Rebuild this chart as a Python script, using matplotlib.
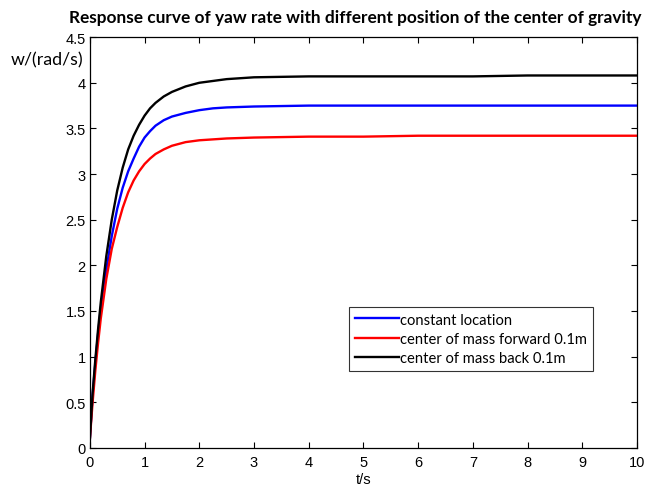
import numpy as np
import matplotlib
matplotlib.use("Agg")
from matplotlib import pyplot as plt

# time samples (s)
t = [0, 0.05, 0.1, 0.15, 0.2, 0.3, 0.4, 0.5, 0.6, 0.7, 0.8, 0.9, 1.0, 1.1,
     1.2, 1.35, 1.5, 1.75, 2.0, 2.25, 2.5, 3.0, 4.0, 5.0, 6.0, 7.0, 8.0,
     9.0, 10.0]

w_constant = [0.1, 0.58, 0.93, 1.25, 1.53, 1.95, 2.32, 2.62, 2.85, 3.03, 3.17,
              3.30, 3.40, 3.47, 3.53, 3.59, 3.63, 3.67, 3.70, 3.72, 3.73, 3.74,
              3.75, 3.75, 3.75, 3.75, 3.75, 3.75, 3.75]
w_forward = [0.1, 0.5, 0.85, 1.15, 1.42, 1.85, 2.18, 2.42, 2.63, 2.8, 2.93,
             3.03, 3.11, 3.17, 3.22, 3.27, 3.31, 3.35, 3.37, 3.38, 3.39, 3.40,
             3.41, 3.41, 3.42, 3.42, 3.42, 3.42, 3.42]
w_back = [0.1, 0.6, 0.97, 1.3, 1.6, 2.1, 2.5, 2.82, 3.07, 3.27, 3.42,
          3.54, 3.64, 3.72, 3.78, 3.85, 3.90, 3.96, 4.00, 4.02, 4.04, 4.06,
          4.07, 4.07, 4.07, 4.07, 4.08, 4.08, 4.08]

labels = ["constant location", "center of mass forward 0.1m", "center of mass back 0.1m"]
colors = ["#0000ff", "#ff0000", "#000000"]

xticks = [0, 1, 2, 3, 4, 5, 6, 7, 8, 9, 10]
yticks = [0, 0.5, 1, 1.5, 2, 2.5, 3, 3.5, 4, 4.5]
ytick_labels = ["0", "0.5", "1", "1.5", "2", "2.5", "3", "3.5", "4", "4.5"]

fig = plt.figure(figsize=(6.56, 4.89), dpi=100)
ax = fig.add_axes([0.137, 0.082, 0.834, 0.840])

for y, c, lab in zip([w_constant, w_forward, w_back], colors, labels):
    ax.plot(t, y, color=c, lw=1.7, label=lab)

ax.set_xlim(0, 10)
ax.set_ylim(0, 4.5)
ax.set_xticks(xticks)
ax.set_xticklabels([str(v) for v in xticks], family="Liberation Sans", fontsize=10.5)
ax.set_yticks(yticks)
ax.set_yticklabels(ytick_labels, family="Liberation Sans", fontsize=10.5)
ax.tick_params(direction="in", length=4, top=True, right=True, width=0.8)
ax.tick_params(axis="x", pad=5)
ax.tick_params(axis="y", pad=3)
for s in ax.spines.values():
    s.set_linewidth(0.9)

fig.text(0.541, 0.963, "Response curve of yaw rate with different position of the center of gravity",
         family="Lato", fontweight="bold", fontsize=12.4, ha="center", va="center")
fig.text(0.016, 0.877, "w/(rad/s)", family="Lato", fontsize=12.8, va="center")
ax.set_xlabel("t/s", family="Liberation Sans", fontsize=10.5, labelpad=2)

leg = ax.legend(loc="upper left", bbox_to_anchor=(0.4735, 0.343),
                prop={"family": "Lato", "size": 10.6},
                frameon=True, fancybox=False, edgecolor="black", handlelength=3.0,
                handletextpad=0.12, labelspacing=0.36, borderpad=0.38, borderaxespad=0)
leg.get_frame().set_linewidth(0.8)

fig.savefig("out.png", dpi=100)
